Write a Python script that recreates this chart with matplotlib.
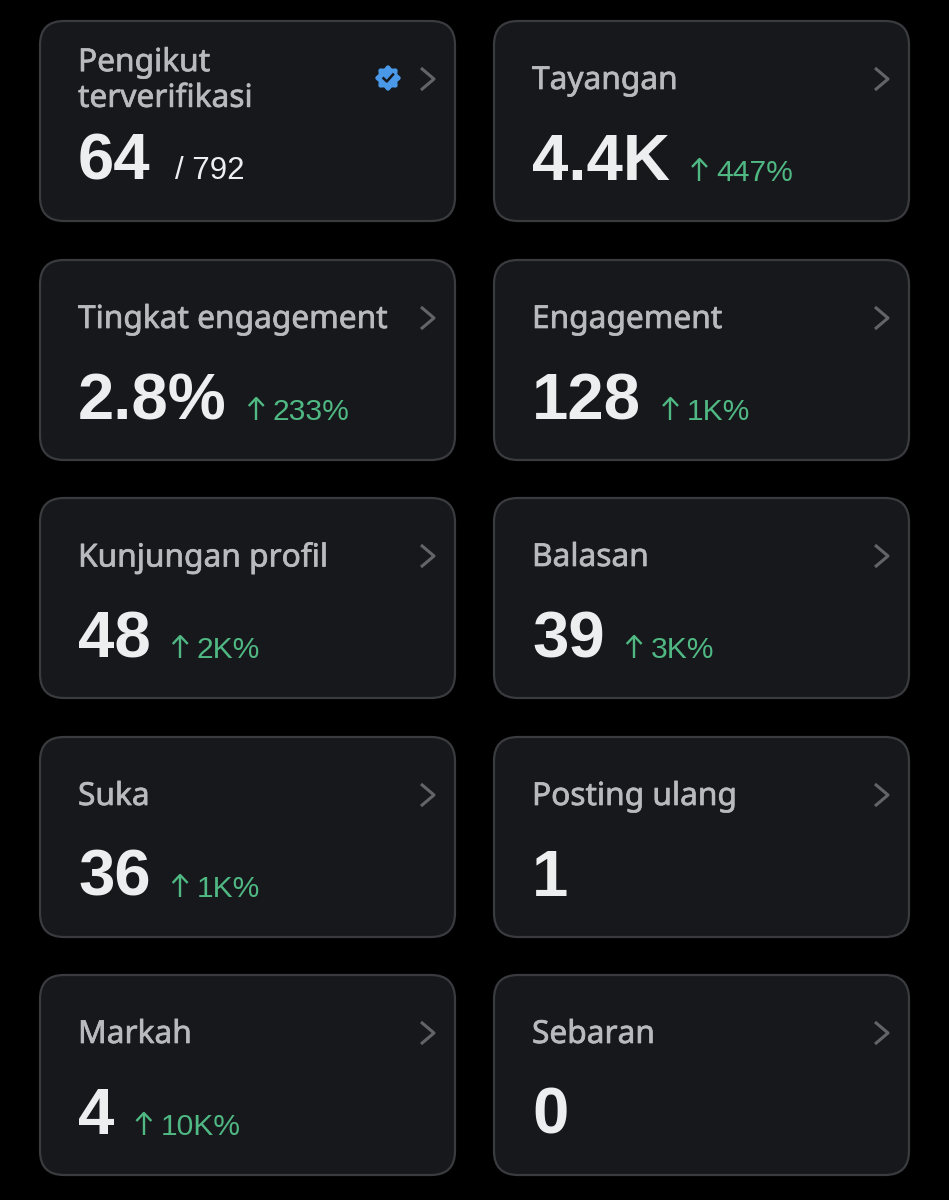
import numpy as np
import matplotlib
matplotlib.use("Agg")
import matplotlib.pyplot as plt
import matplotlib.patheffects as pe
from matplotlib.patches import FancyBboxPatch, Polygon

# data, column by column per row
labels = ["Pengikut\nterverifikasi", "Tayangan", "Tingkat engagement", "Engagement",
          "Kunjungan profil", "Balasan", "Suka", "Posting ulang", "Markah", "Sebaran"]
values = ["64", "4.4K", "2.8%", "128", "48", "39", "36", "1", "4", "0"]
deltas = [None, "447%", "233%", "1K%", "2K%", "3K%", "1K%", None, "10K%", None]
total_note = "/ 792"

col_x = [40, 494]
row_y = [21, 260, 498, 737, 975]
card_w, card_h = 415, 200

CARD = "#17181c"
EDGE = "#3a3b3f"
LABEL = "#b8babe"
VALUE = "#eceef0"
GREEN = "#4fb883"
CHEV = "#636468"
BLUE = "#4a99e9"

fig = plt.figure(figsize=(9.49, 12), dpi=100, facecolor="black")
ax = fig.add_axes([0, 0, 1, 1])
ax.set_xlim(0, 949)
ax.set_ylim(1200, 0)
ax.axis("off")


def draw_badge(cx, cy):
    t = np.linspace(0, 2 * np.pi, 200)
    r = 11.5 + 1.2 * np.cos(8 * t)
    ax.add_patch(Polygon(np.c_[cx + r * np.cos(t), cy + r * np.sin(t)], fc=BLUE, ec="none"))
    ax.plot([cx - 4.5, cx - 1.2, cx + 5], [cy + 0.3, cy + 3.5, cy - 3.5], color="#17181c", lw=1.8)


def draw_arrow(x, base):
    ax.plot([x + 8.5, x + 8.5], [base, base - 22], color=GREEN, lw=1.7, solid_capstyle="butt")
    ax.plot([x + 1, x + 8.5, x + 16], [base - 14, base - 22, base - 14], color=GREEN, lw=1.7,
            solid_capstyle="butt")


renderer = fig.canvas.get_renderer()

for i, (label, value, delta) in enumerate(zip(labels, values, deltas)):
    x0 = col_x[i % 2]
    y0 = row_y[i // 2]

    ax.add_patch(FancyBboxPatch((x0 + 24, y0 + 24), card_w - 48, card_h - 48,
                                boxstyle="round,pad=24,rounding_size=24",
                                fc=CARD, ec=EDGE, lw=1.6))

    # label font has no medium weight here, thin stroke thickens it
    ax.text(x0 + 38, y0 + 60, label, color=LABEL, fontsize=22.8, family="Noto Sans",
            va="center", ha="left", linespacing=1.25,
            path_effects=[pe.withStroke(linewidth=0.5, foreground=LABEL)])

    val = ax.text(x0 + 38, y0 + 159, value, color=VALUE, fontsize=47, weight="bold",
                  family="Liberation Sans", va="baseline", ha="left")
    val_end = ax.transData.inverted().transform(val.get_window_extent(renderer))[1, 0]

    if delta:
        draw_arrow(val_end + 21, y0 + 160)
        ax.text(val_end + 46, y0 + 160, delta, color=GREEN, fontsize=21.6, family="Liberation Sans",
                va="baseline", ha="left")

    # chevron
    ax.plot([x0 + 381, x0 + 394, x0 + 381], [y0 + 47, y0 + 58, y0 + 69], color=CHEV, lw=2.2,
            solid_capstyle="butt")

ax.text(col_x[0] + 135, row_y[0] + 158, total_note, color=VALUE, fontsize=22.5,
        family="Liberation Sans", va="baseline", ha="left")
draw_badge(388, 78)

fig.savefig("out.png", dpi=100, facecolor="black")
